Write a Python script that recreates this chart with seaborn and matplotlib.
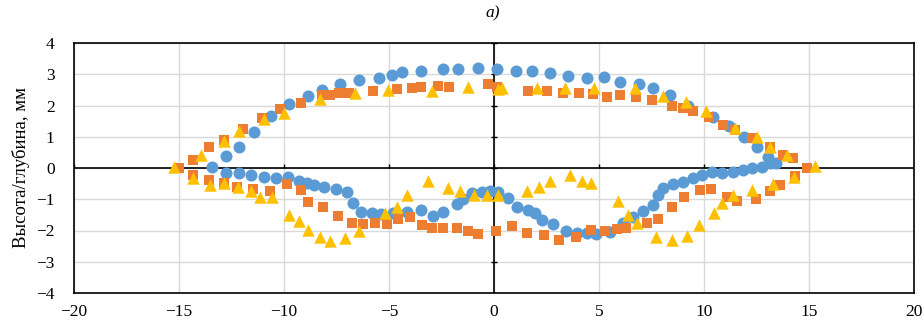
import matplotlib
matplotlib.use("Agg")
import matplotlib.pyplot as plt
import seaborn as sns
import pandas as pd
import numpy as np

# ---- data ----
blue_x = [-13.43, -12.76, -12.14, -11.43, -10.6, -9.76, -8.86, -8.19, -7.33, -6.43,
          -5.48, -4.86, -4.38, -3.48, -2.43, -1.71, -0.76, 0.12, 1.05, 1.81,
          2.67, 3.52, 4.43, 5.24, 6.0, 6.9, 7.57, 8.38, 9.24, 10.45, 11.2, 11.9,
          12.5, 13.05, 13.43,
          -12.76, -12.14, -11.57, -10.95, -10.38, -9.8, -9.29, -8.9, -8.57, -8.1,
          -7.52, -7.0, -6.71, -6.33, -5.81, -5.38, -4.81, -4.14, -3.48, -2.9,
          -2.43, -1.76, -1.48, -1.05, -0.57, -0.19, 0.19, 0.67, 1.1, 1.62,
          1.95, 2.29, 2.81, 3.43, 3.95, 4.43, 4.86, 5.5, 6.14, 6.62, 7.1, 7.57,
          7.81, 8.05, 8.52, 9.0, 9.48, 9.9, 10.38, 10.86, 11.38, 11.86, 12.29,
          12.76, 13.14]
blue_y = [0.03, 0.38, 0.67, 1.15, 1.66, 2.05, 2.3, 2.5, 2.68, 2.82,
          2.88, 2.98, 3.07, 3.1, 3.17, 3.17, 3.2, 3.17, 3.1, 3.1,
          3.04, 2.94, 2.88, 2.91, 2.75, 2.68, 2.56, 2.34, 1.98, 1.62, 1.35, 1.0,
          0.67, 0.35, 0.16,
          -0.16, -0.17, -0.23, -0.28, -0.33, -0.28, -0.41, -0.48, -0.54, -0.62,
          -0.68, -0.76, -1.12, -1.41, -1.44, -1.47, -1.44, -1.41, -1.34, -1.54,
          -1.41, -1.15, -0.99, -0.8, -0.77, -0.74, -0.77, -0.96, -1.25, -1.34,
          -1.44, -1.66, -1.79, -2.0, -2.08, -2.08, -2.11, -2.05, -1.76, -1.57, -1.38, -1.18,
          -0.86, -0.64, -0.51, -0.45, -0.32, -0.22, -0.13, -0.16, -0.13, -0.06, 0.0,
          0.03, 0.16]

orange_x = [-15.0, -14.33, -13.57, -12.86, -11.95, -11.05, -10.2, -9.19, -8.19, -7.81,
            -7.38, -6.9, -5.76, -4.62, -3.9, -3.48, -2.67, -2.14, -0.29, 0.15,
            1.62, 2.52, 3.29, 4.05, 4.71, 5.38, 6.0, 6.76, 7.52, 8.48, 9.0,
            9.48, 10.25, 10.9, 11.48, 12.29, 13.14, 13.76, 14.24, 14.9,
            -14.33, -13.57, -12.86, -12.24, -11.48, -10.65, -9.86, -9.19, -8.86,
            -8.14, -7.43, -6.76, -6.24, -5.67, -5.1, -4.57, -4.0, -3.43, -2.95,
            -2.43, -1.76, -1.24, -0.76, 0.1, 0.86, 1.57, 2.38, 3.1, 3.9, 4.62,
            5.29, 5.86, 6.29, 7.29, 7.81, 8.48, 9.05, 9.81, 10.33, 11.1, 11.57,
            12.48, 13.14, 13.62, 14.33]
orange_y = [0.0, 0.26, 0.67, 0.9, 1.25, 1.6, 1.9, 2.08, 2.34, 2.34,
            2.4, 2.4, 2.46, 2.53, 2.56, 2.6, 2.62, 2.6, 2.68, 2.6,
            2.46, 2.46, 2.4, 2.4, 2.37, 2.27, 2.34, 2.27, 2.18, 1.98, 1.92,
            1.82, 1.63, 1.38, 1.22, 0.96, 0.67, 0.42, 0.32, 0.0,
            -0.22, -0.38, -0.48, -0.61, -0.67, -0.72, -0.51, -0.7, -1.09,
            -1.25, -1.54, -1.76, -1.79, -1.76, -1.79, -1.63, -1.57, -1.82, -1.92,
            -1.92, -1.92, -2.02, -2.11, -2.02, -1.86, -2.08, -2.14, -2.3, -2.21, -1.98,
            -2.02, -1.95, -1.92, -1.76, -1.63, -1.25, -0.93, -0.7, -0.67, -0.93, -1.06,
            -0.99, -0.74, -0.54, -0.26]

yellow_x = [-15.24, -13.95, -12.86, -12.14, -10.95, -10.0, -8.29, -6.62, -5.05, -2.95,
            -1.24, 0.19, 0.38, 2.05, 3.38, 4.76, 6.71, 8.05, 9.14, 10.08, 11.48,
            12.52, 13.14, 13.95, 15.29,
            -14.33, -13.52, -12.86, -12.19, -11.57, -11.14, -10.55, -9.76, -9.29,
            -8.86, -8.29, -7.81, -7.1, -6.43, -5.19, -4.62, -4.14, -3.14, -2.19,
            -1.62, -0.95, -0.33, 0.19, 1.57, 2.14, 2.67, 3.62, 4.19, 4.62, 5.9,
            6.38, 6.81, 7.71, 8.48, 9.19, 9.76, 10.48, 10.86, 11.38, 12.29, 13.29,
            14.29]
yellow_y = [0.03, 0.42, 0.86, 1.18, 1.57, 1.76, 2.2, 2.4, 2.5, 2.46,
            2.6, 2.53, 2.56, 2.56, 2.56, 2.56, 2.56, 2.3, 2.11, 1.84, 1.28,
            1.0, 0.67, 0.42, 0.08,
            -0.32, -0.54, -0.48, -0.61, -0.74, -0.93, -0.93, -1.5, -1.7,
            -1.98, -2.21, -2.34, -2.24, -2.02, -1.44, -1.25, -0.86, -0.42, -0.64,
            -0.74, -0.86, -0.86, -0.86, -0.74, -0.61, -0.42, -0.22, -0.42, -0.48, -1.06,
            -1.5, -1.76, -2.21, -2.3, -2.18, -1.82, -1.44, -1.12, -0.86, -0.7, -0.51,
            -0.29]

x_ticks = [-20, -15, -10, -5, 0, 5, 10, 15, 20]
y_ticks = [-4, -3, -2, -1, 0, 1, 2, 3, 4]
title_text = "a)"
y_label = "Высота/глубина, мм"

# ---- build table ----
df = pd.concat([
    pd.DataFrame({"x": blue_x, "y": blue_y, "s": "1"}),
    pd.DataFrame({"x": orange_x, "y": orange_y, "s": "2"}),
    pd.DataFrame({"x": yellow_x, "y": yellow_y, "s": "3"}),
], ignore_index=True)

sns.set_theme(style="white")
plt.rcParams["font.family"] = ["Liberation Serif", "DejaVu Serif"]
plt.rcParams["axes.unicode_minus"] = True

fig = plt.figure(figsize=(9.23, 3.21), dpi=100)
ax = fig.add_axes([74 / 923, 1 - 293 / 321, (914 - 74) / 923, (293 - 43) / 321])

ax.grid(True, color="#d9d9d9", linewidth=1.0, zorder=0)
ax.set_axisbelow(True)
ax.axhline(0, color="black", linewidth=1.2, zorder=1)
ax.axvline(0, color="black", linewidth=1.2, zorder=1)

# small ticks on the crossing axes
ax.vlines(x_ticks, 0, 0.12, color="black", linewidth=1.0, zorder=1)
ax.hlines(y_ticks, -0.15, 0.15, color="black", linewidth=1.0, zorder=1)

colors = {"1": "#5B9BD5", "2": "#ED7D31", "3": "#FFC000"}
markers = {"1": "o", "2": "s", "3": "^"}
sizes = {"1": 75, "2": 60, "3": 80}
for key in ["1", "2", "3"]:
    sub = df[df["s"] == key]
    sns.scatterplot(data=sub, x="x", y="y", ax=ax, color=colors[key],
                    marker=markers[key], s=sizes[key], linewidth=0,
                    zorder=3 + int(key), legend=False)

ax.set_xlim(-20, 20)
ax.set_ylim(-4, 4)
ax.set_xticks(x_ticks)
ax.set_yticks(y_ticks)
ax.tick_params(axis="both", length=0, labelsize=12.5, colors="black")
ax.tick_params(axis="x", pad=8)
ax.tick_params(axis="y", pad=14)
ax.set_xlabel("")
ax.set_ylabel(y_label, fontsize=13.5, color="black", labelpad=4)

for sp in ax.spines.values():
    sp.set_visible(True)
    sp.set_color("black")
    sp.set_linewidth(1.2)

fig.text(493 / 923, 1 - 13 / 321, title_text, ha="center", va="center",
         fontsize=12.5, fontstyle="italic", color="black")

fig.savefig("out.png", dpi=100)
